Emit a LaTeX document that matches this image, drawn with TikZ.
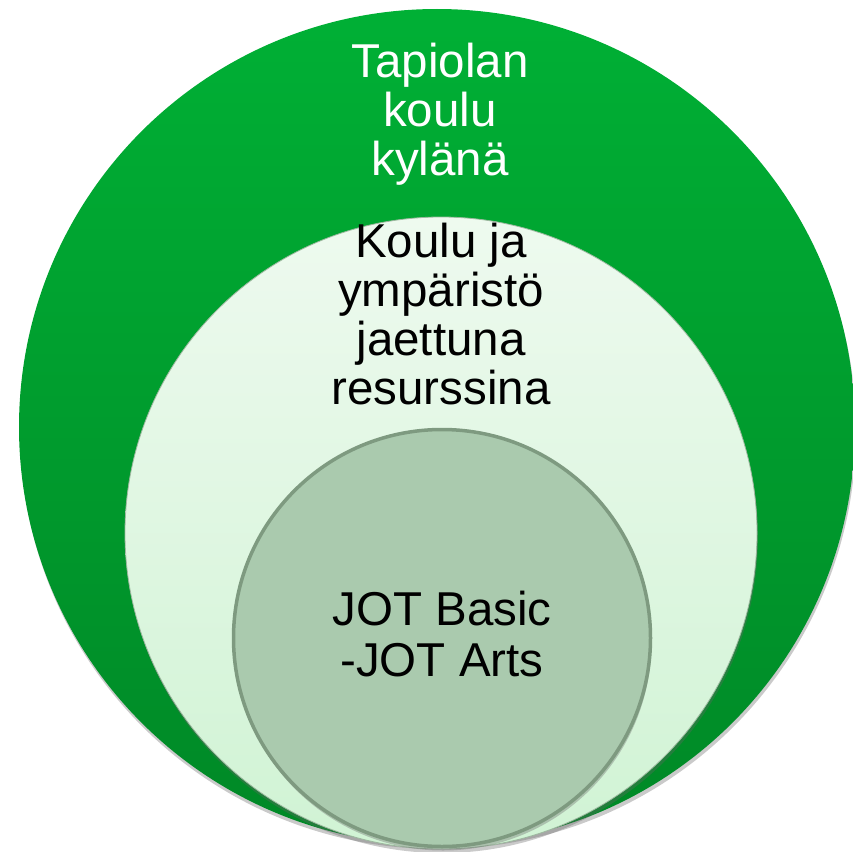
\documentclass[tikz,border=0pt]{standalone}
\usepackage{fontspec}
\setmainfont{Liberation Sans}
\usetikzlibrary{shadows}
\definecolor{outertop}{HTML}{00B035}
\definecolor{outerbot}{HTML}{008826}
\definecolor{midtop}{HTML}{EEFAEF}
\definecolor{midbot}{HTML}{D0F3D4}
\definecolor{innerfill}{HTML}{AACAAE}
\definecolor{innerline}{HTML}{7E9A80}
\definecolor{midline}{HTML}{9DB89F}
\tikzset{
  ring/.style={circle, inner sep=0pt, outer sep=0pt},
  softshadow/.style={drop shadow={shadow xshift=1pt, shadow yshift=-4pt, opacity=0.35, fill=black!60}},
  label44/.style={font=\fontsize{47.5}{49}\selectfont, align=center, inner sep=0pt, anchor=base},
}
\begin{document}
\begin{tikzpicture}[x=1pt,y=-1pt]
\useasboundingbox (0,0) rectangle (853,851);
\node[ring, minimum size=836pt, top color=outertop, bottom color=outerbot, softshadow] (outer) at (437,427) {};
\node[ring, minimum size=632pt, top color=midtop, bottom color=midbot, draw=midline, line width=0.8pt, softshadow] (middle) at (441,533) {};
\node[ring, minimum size=417pt, fill=innerfill, draw=innerline, line width=3.5pt, softshadow] (inner) at (442,638) {};
\node[label44, text=white] (t1) at (440,175) {Tapiolan\\koulu\\kylänä};
\node[label44, text=black] (t2) at (441,404) {Koulu ja\\ympäristö\\jaettuna\\resurssina};
\node[label44, text=black, font=\fontsize{47.5}{51}\selectfont] (t3) at (442,676) {JOT Basic\\-JOT Arts};
\end{tikzpicture}
\end{document}
